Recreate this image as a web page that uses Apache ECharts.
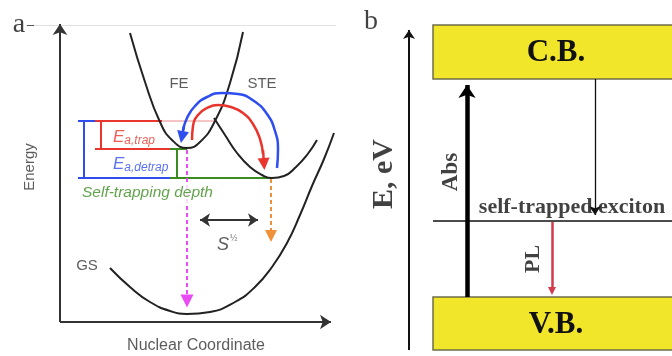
<!DOCTYPE html>
<html><head><meta charset="utf-8">
<script src="https://cdn.jsdelivr.net/npm/echarts@6/dist/echarts.min.js"></script>
<style>html,body{margin:0;padding:0;background:#fff}#c{width:672px;height:356px}</style>
</head><body><div id="c"></div>
<script>
// ---------- Panel a: potential-energy curves (schematic coordinates) ----------
const feCurve  = [[130,33],[145,82],[160,122],[172,140],[187,148],[200,142],[215,121],[230,83],[243,32]];
const steCurve = [[214,118],[225,135],[237,153],[250,167],[262,175],[272,178],[284,176],[296,167],[307,155],[317,140]];
const gsCurve  = [[110,268],[130,287],[150,302],[170,311],[187,314],[210,312],[235,302],[255,287],[272,267],[287,243],[300,215],[312,186],[324,159],[334,133]];
const blueArc  = [[277,168],[278,150],[275,131],[267,114],[254,101],[238,94],[222,93],[207,97],[195,106],[187,118],[183,130]];
const redArc   = [[192,140],[193,126],[198,115],[207,108],[218,105],[231,107],[243,113],[253,124],[260,139],[263,154]];
// level segments: [x1,y1,x2,y2,colorKey]
const levelSegs = [
  [78,121,95,121,'blue'],[95,121,162,121,'red'],[162,121,215,121,'pink'],
  [84,121,84,178,'blue'],[101,121,101,149,'red'],
  [95,149,170,149,'red'],[170,149,187,149,'green'],
  [177,149,177,178,'green'],
  [78,178,170,178,'blue'],[170,178,273,178,'green']
];
// arrows: [x1,y1,x2,y2]
const axisArrowsA = [[60,322,60,24],[60,322,331,322]];
const magentaDrop = [[187,150,187,301]];
const orangeDrop  = [[271,179,271,236]];
const sArrow      = [[200,220,258,220]];
const blueHead    = [[184,126,182,137]];
const redHead     = [[263,150,264,164]];
// ---------- Panel b: energy levels ----------
const bands = [[433,25,690,79,'C.B.'],[433,297,690,350,'V.B.']];
const steLevel = [[433,221,672,221]];
const axisArrowB = [[409,350,409,30]];
const absArrow = [[467,297,467,85]];
const relaxArrow = [[595,79,595,215]];
const plArrow = [[552,222,552,291]];

const C = {blue:'#2f4ef0', red:'#e8352e', green:'#3a8c1e', pink:'#f6c4c4'};
const sans = 'Liberation Sans', serif = 'Liberation Serif';

function seg(a){return a.map(s=>({coords:[[s[0],s[1]],[s[2],s[3]]]}));}
function arrowSeries(arr,color,width,sym,size,extra){
  return Object.assign({type:'lines',coordinateSystem:'cartesian2d',polyline:false,silent:true,
    symbol:sym,symbolSize:size,lineStyle:{color:color,width:width,opacity:1,curveness:0},
    data:seg(arr),z:5},extra||{});
}
function curve(d,color,width){
  return {type:'line',data:d,smooth:0.5,symbol:'none',silent:true,lineStyle:{color:color,width:width},z:4};
}
function txt(x,y,label,z){
  return {type:'scatter',symbolSize:0,silent:true,data:[[x,y]],z:z||10,label:Object.assign({show:true},label)};
}

const option = {
  animation:false,
  grid:{left:0,right:0,top:0,bottom:0},
  xAxis:{type:'value',min:0,max:672,show:false},
  yAxis:{type:'value',min:0,max:356,inverse:true,show:false},
  series:[
    arrowSeries([[26,25,336,25]],'#e2e2e2',1,['none','none'],0),
    arrowSeries([[27,25,34,25]],'#555',1,['none','none'],0),
    arrowSeries(axisArrowsA,'#333',2,['none','arrow'],[0,11]),
    curve(feCurve,'#222',2),
    curve(steCurve,'#222',2),
    curve(gsCurve,'#222',2),
    {type:'lines',coordinateSystem:'cartesian2d',silent:true,z:3,
      data:levelSegs.map(s=>({coords:[[s[0],s[1]],[s[2],s[3]]],lineStyle:{color:C[s[4]],width:2}})),
      symbol:'none',lineStyle:{width:2,opacity:1}},
    curve(blueArc,C.blue,2.5),
    curve(redArc,C.red,2.5),
    arrowSeries(blueHead,C.blue,2.5,['none','triangle'],[0,12]),
    arrowSeries(redHead,C.red,2.5,['none','triangle'],[0,12]),
    arrowSeries(magentaDrop,'#e84cf2',2,['none','triangle'],[0,13],{lineStyle:{color:'#e84cf2',width:2,type:[4,3],opacity:1}}),
    arrowSeries(orangeDrop,'#f0903a',2,['none','triangle'],[0,12],{lineStyle:{color:'#f0903a',width:2,type:[4,3],opacity:1}}),
    arrowSeries(sArrow,'#333',2,['arrow','arrow'],[10,10]),
    // panel b
    {type:'custom',silent:true,z:2,data:bands,
      renderItem:function(params,api){
        const p1=api.coord([api.value(0),api.value(1)]), p2=api.coord([api.value(2),api.value(3)]);
        const b=bands[params.dataIndex];
        return {type:'group',children:[
          {type:'rect',shape:{x:p1[0],y:p1[1],width:p2[0]-p1[0],height:p2[1]-p1[1]},
           style:{fill:'#f2e62a',stroke:'#6e6e4a',lineWidth:1.5}},
          {type:'text',style:{text:b[4],x:556,y:(p1[1]+p2[1])/2+1,align:'center',verticalAlign:'middle',
           font:'bold 31px "Liberation Serif"',fill:'#111'}}
        ]};
      }},
    arrowSeries(axisArrowB,'#111',2,['none','arrow'],[0,9]),
    arrowSeries(steLevel,'#111',1.5,['none','none'],0),
    arrowSeries(absArrow,'#000',4.5,['none','arrow'],[0,13]),
    arrowSeries(relaxArrow,'#111',1.3,['none','arrow'],[0,9]),
    arrowSeries(plArrow,'#d23a4e',2.5,['none','triangle'],[0,8]),
    // texts panel a
    txt(19,25,{formatter:'a',position:'inside',fontFamily:serif,fontSize:28,color:'#111'}),
    txt(179,84,{formatter:'FE',position:'inside',fontFamily:sans,fontSize:15,color:'#333'}),
    txt(262,84,{formatter:'STE',position:'inside',fontFamily:sans,fontSize:15,color:'#333'}),
    txt(30,167,{formatter:'Energy',position:'inside',rotate:90,fontFamily:sans,fontSize:15,color:'#333'}),
    txt(196,346,{formatter:'Nuclear Coordinate',position:'inside',fontFamily:sans,fontSize:16,color:'#333'}),
    txt(87,266,{formatter:'GS',position:'inside',fontFamily:sans,fontSize:15,color:'#333'}),
    txt(113,137,{formatter:'{e|E}{s|a,trap}',position:'right',distance:0,
      rich:{e:{fontFamily:sans,fontStyle:'italic',fontSize:17,color:C.red,lineHeight:20},
            s:{fontFamily:sans,fontStyle:'italic',fontSize:12,color:C.red,lineHeight:20,padding:[8,0,0,0]}}}),
    txt(113,164,{formatter:'{e|E}{s|a,detrap}',position:'right',distance:0,
      rich:{e:{fontFamily:sans,fontStyle:'italic',fontSize:17,color:C.blue,lineHeight:20},
            s:{fontFamily:sans,fontStyle:'italic',fontSize:12,color:C.blue,lineHeight:20,padding:[8,0,0,0]}}}),
    txt(80,193,{formatter:'Self-trapping depth',position:'right',distance:0,fontFamily:sans,fontStyle:'italic',fontSize:15.5,color:C.green,
      backgroundColor:'#fff',padding:[3,2,3,2]},12),
    txt(217,245,{formatter:'{s|S}{f|½}',position:'right',distance:0,
      rich:{s:{fontFamily:sans,fontStyle:'italic',fontSize:18,color:'#333',lineHeight:22},
            f:{fontFamily:sans,fontSize:9,color:'#555',lineHeight:22,padding:[0,0,12,1]}}}),
    // texts panel b
    txt(371,22,{formatter:'b',position:'inside',fontFamily:serif,fontSize:28,color:'#111'}),
    txt(384,174,{formatter:'E, eV',position:'inside',rotate:90,fontFamily:serif,fontWeight:'bold',fontSize:30,color:'#111'}),
    txt(451,172,{formatter:'Abs',position:'inside',rotate:90,fontFamily:serif,fontWeight:'bold',fontSize:23,color:'#111'}),
    txt(533,259,{formatter:'PL',position:'inside',rotate:90,fontFamily:serif,fontWeight:'bold',fontSize:22,color:'#111'}),
    txt(572,207,{formatter:'self-trapped exciton',position:'inside',fontFamily:serif,fontWeight:'bold',fontSize:22,color:'#111'})
  ]
};
const chart = echarts.init(document.getElementById('c'),null,{renderer:'canvas'});
chart.setOption(option);
</script></body></html>
